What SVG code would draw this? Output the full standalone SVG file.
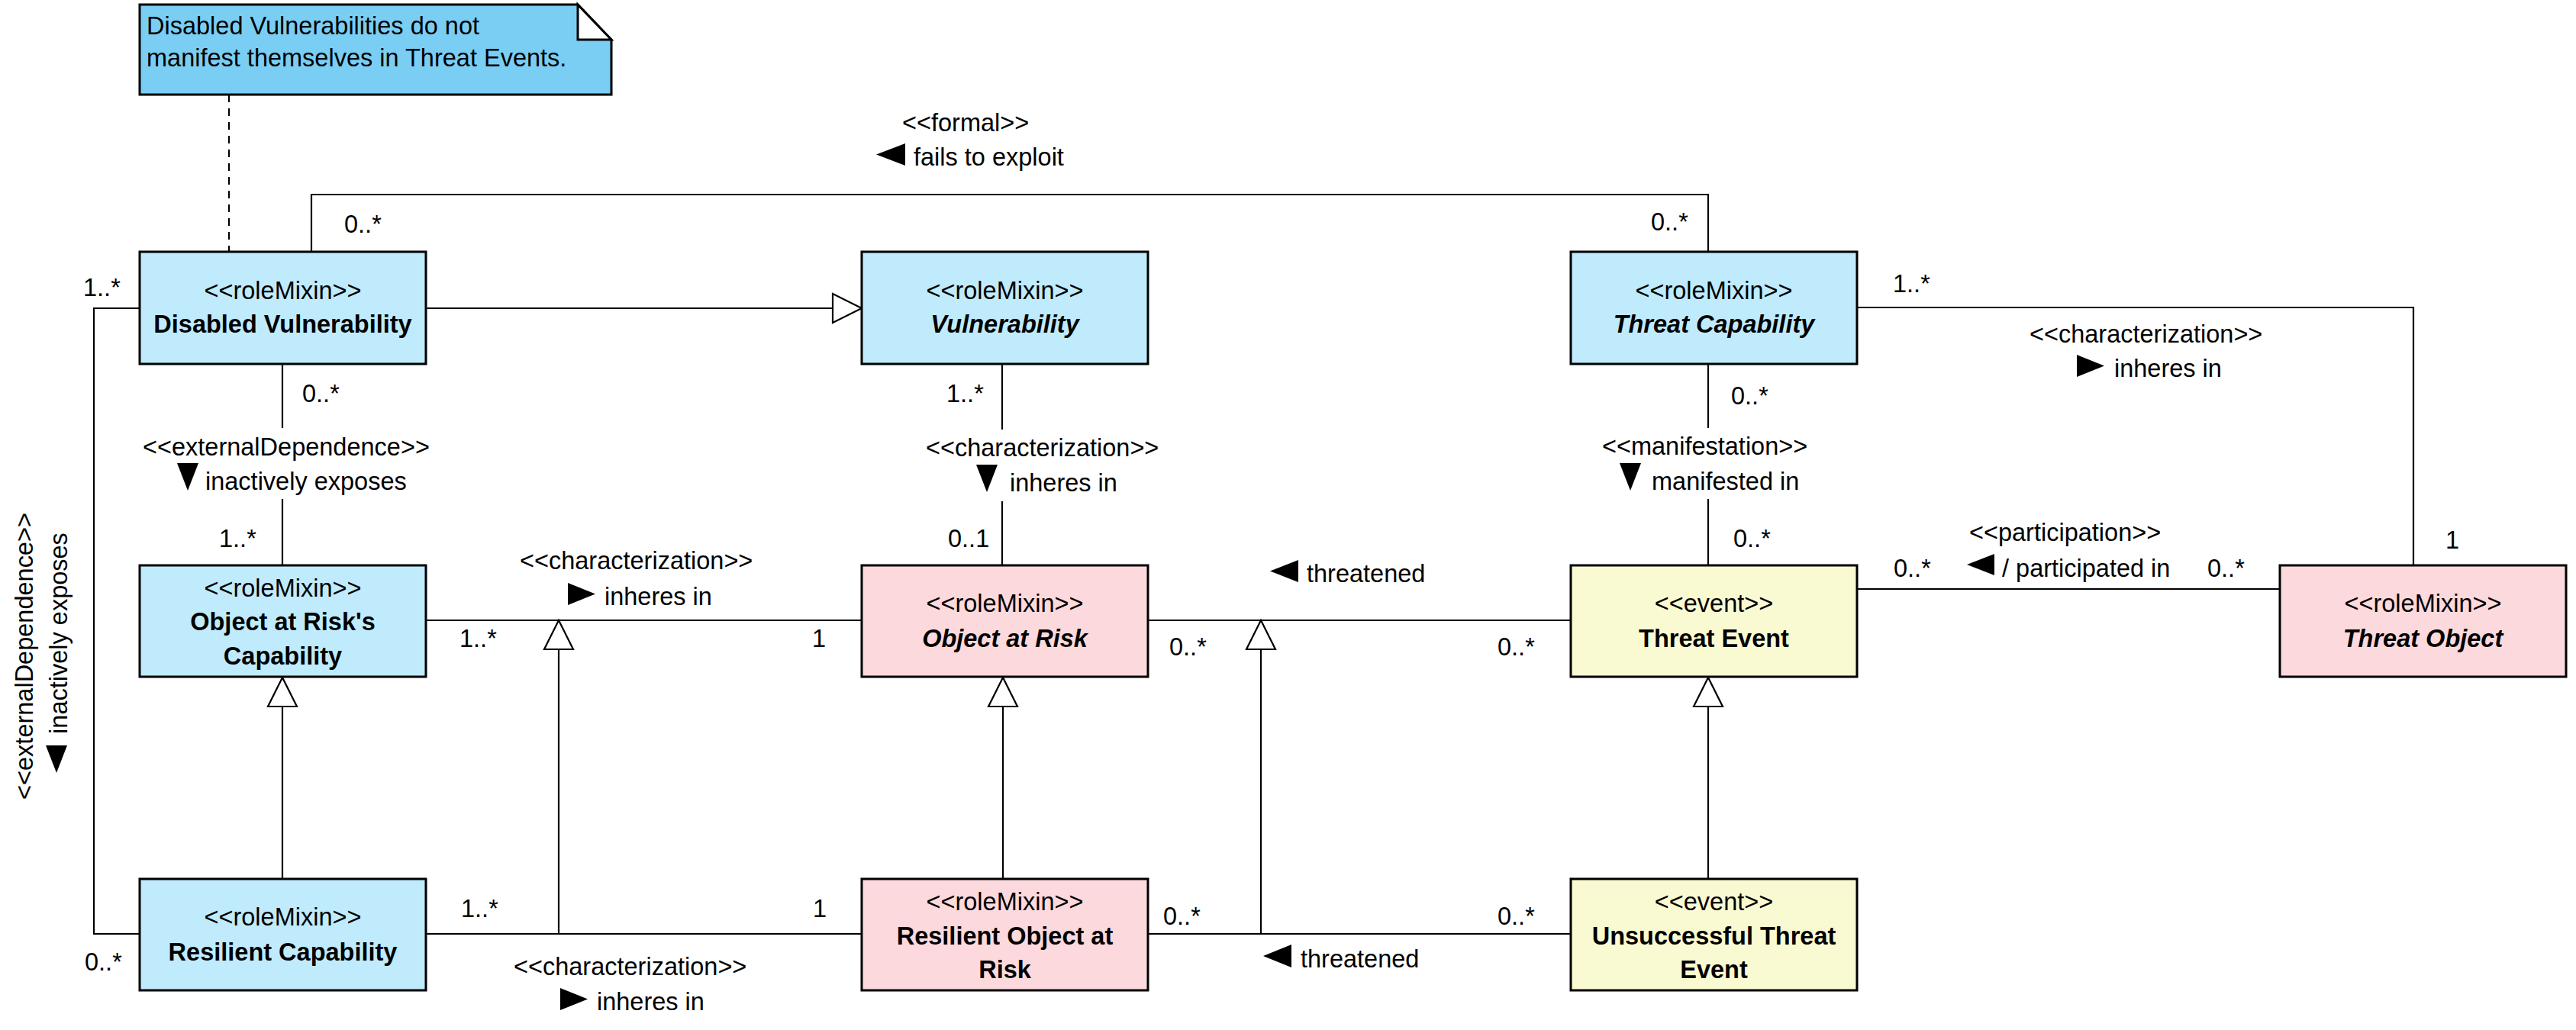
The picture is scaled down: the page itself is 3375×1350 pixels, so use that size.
<svg xmlns="http://www.w3.org/2000/svg" width="3375" height="1350" viewBox="0 0 3375 1350">
<style>
text{font-family:"Liberation Sans",Arial,sans-serif;font-size:32.5px;fill:#000}
.c{text-anchor:middle}
.b{font-weight:bold}
.i{font-weight:bold;font-style:italic}
.box{stroke:#000;stroke-width:3}
.blue{fill:#BFEBFD}
.pink{fill:#FCD9DD}
.yel{fill:#FAFAD2}
.ln{fill:none;stroke:#000;stroke-width:2.2}
.gen{fill:#fff;stroke:#000;stroke-width:2.2}
.arr{fill:#000;stroke:none}
.note text{font-size:31.5px}
</style>
<rect width="3375" height="1350" fill="#fff"/>

<g id="note">
<polygon points="183,6 757,6 801,52 801,124 183,124" fill="#7ACEF4" stroke="#000" stroke-width="3"/>
<polygon points="757,6 801,52 757,52" fill="#fff" stroke="#000" stroke-width="3" stroke-linejoin="miter"/>
<text x="192" y="45">Disabled Vulnerabilities do not</text>
<text x="192" y="87">manifest themselves in Threat Events.</text>
</g>

<g id="connectors">
<path class="ln" d="M300,124 V330" stroke-dasharray="10,8"/>
<!-- formal -->
<path class="ln" d="M408,330 V255 H2238 V330"/>
<text x="1182" y="172">&lt;&lt;formal&gt;&gt;</text>
<polygon class="arr" points="1148,202.5 1186,188 1186,217"/>
<text x="1197" y="217">fails to exploit</text>
<text x="451" y="305">0..*</text>
<text x="2163" y="302">0..*</text>
<!-- DV -> Vulnerability generalization -->
<path class="ln" d="M558,404 H1091"/>
<polygon class="gen" points="1129,404 1091,385 1091,423"/>
<!-- DV - ORC external dependence -->
<path class="ln" d="M370,477 V561 M370,654 V741"/>
<text x="396" y="527">0..*</text>
<text x="187" y="597">&lt;&lt;externalDependence&gt;&gt;</text>
<polygon class="arr" points="232,607 260,607 246,643"/>
<text x="269" y="642">inactively exposes</text>
<text x="287" y="717">1..*</text>
<!-- Vulnerability - OaR characterization -->
<path class="ln" d="M1313,478 V563 M1313,657 V741"/>
<text x="1240" y="527">1..*</text>
<text x="1213" y="598">&lt;&lt;characterization&gt;&gt;</text>
<polygon class="arr" points="1279,609 1307,609 1293,645"/>
<text x="1323" y="644">inheres in</text>
<text x="1242" y="717">0..1</text>
<!-- TC - TE manifestation -->
<path class="ln" d="M2238,478 V561 M2238,654 V741"/>
<text x="2268" y="530">0..*</text>
<text x="2099" y="596">&lt;&lt;manifestation&gt;&gt;</text>
<polygon class="arr" points="2122,607 2150,607 2136,643"/>
<text x="2164" y="642">manifested in</text>
<text x="2271" y="717">0..*</text>
<!-- ORC - OaR characterization -->
<path class="ln" d="M559,813 H1129"/>
<text x="681" y="746">&lt;&lt;characterization&gt;&gt;</text>
<polygon class="arr" points="744,764 744,793 780,778.5"/>
<text x="792" y="793">inheres in</text>
<text x="602" y="848">1..*</text>
<text x="1064" y="848">1</text>
<path class="ln" d="M732,851 V1224"/>
<polygon class="gen" points="732,813 713,851 751,851"/>
<!-- RC - ROaR characterization -->
<path class="ln" d="M559,1224 H1129"/>
<text x="604" y="1202">1..*</text>
<text x="1065" y="1202">1</text>
<text x="673" y="1278">&lt;&lt;characterization&gt;&gt;</text>
<polygon class="arr" points="734,1295 734,1324 770,1309.5"/>
<text x="782" y="1324">inheres in</text>
<!-- RC -> ORC generalization -->
<path class="ln" d="M370,926 V1152"/>
<polygon class="gen" points="370,888 351,926 389,926"/>
<!-- DV - RC external dependence (left) -->
<path class="ln" d="M183,404 H123 V1224 H184"/>
<text x="109" y="388">1..*</text>
<text x="111" y="1272">0..*</text>
<text class="c" transform="translate(43,860) rotate(-90)">&lt;&lt;externalDependence&gt;&gt;</text>
<text class="c" transform="translate(88,830) rotate(-90)">inactively exposes</text>
<polygon class="arr" points="60,977 88,977 74,1013"/>
<!-- OaR - TE threatened -->
<path class="ln" d="M1503,813 H2058"/>
<polygon class="arr" points="1664,748.5 1701,734 1701,763"/>
<text x="1712" y="763">threatened</text>
<text x="1532" y="859">0..*</text>
<text x="1962" y="859">0..*</text>
<path class="ln" d="M1652,851 V1224"/>
<polygon class="gen" points="1652,813 1633,851 1671,851"/>
<!-- ROaR - UTE threatened -->
<path class="ln" d="M1503,1224 H2058"/>
<text x="1524" y="1212">0..*</text>
<text x="1962" y="1212">0..*</text>
<polygon class="arr" points="1655,1253 1692,1238 1692,1268"/>
<text x="1704" y="1268">threatened</text>
<!-- ROaR -> OaR generalization -->
<path class="ln" d="M1314,926 V1152"/>
<polygon class="gen" points="1314,888 1295,926 1333,926"/>
<!-- UTE -> TE generalization -->
<path class="ln" d="M2238,926 V1152"/>
<polygon class="gen" points="2238,888 2219,926 2257,926"/>
<!-- TC - TO characterization -->
<path class="ln" d="M2432,403 H3162 V741"/>
<text x="2480" y="383">1..*</text>
<text x="2659" y="449">&lt;&lt;characterization&gt;&gt;</text>
<polygon class="arr" points="2721,465 2721,494 2757,479.5"/>
<text x="2770" y="494">inheres in</text>
<text x="3204" y="719">1</text>
<!-- TE - TO participation -->
<path class="ln" d="M2432,772 H2987"/>
<text x="2481" y="756">0..*</text>
<text x="2892" y="756">0..*</text>
<text x="2580" y="709">&lt;&lt;participation&gt;&gt;</text>
<polygon class="arr" points="2577,740 2613,726 2613,754"/>
<text x="2623" y="756">/ participated in</text>
</g>

<g id="disabled-vulnerability">
<rect class="box blue" x="183" y="330" width="375" height="147"/>
<text class="c" x="370.5" y="392">&lt;&lt;roleMixin&gt;&gt;</text>
<text class="c b" x="370.5" y="436">Disabled Vulnerability</text>
</g>
<g id="vulnerability">
<rect class="box blue" x="1129" y="330" width="375" height="147"/>
<text class="c" x="1316.5" y="392">&lt;&lt;roleMixin&gt;&gt;</text>
<text class="c i" x="1316.5" y="436">Vulnerability</text>
</g>
<g id="threat-capability">
<rect class="box blue" x="2058" y="330" width="375" height="147"/>
<text class="c" x="2245.5" y="392">&lt;&lt;roleMixin&gt;&gt;</text>
<text class="c i" x="2245.5" y="436">Threat Capability</text>
</g>
<g id="object-at-risks-capability">
<rect class="box blue" x="183" y="741" width="375" height="146"/>
<text class="c" x="370.5" y="782">&lt;&lt;roleMixin&gt;&gt;</text>
<text class="c b" x="370.5" y="826">Object at Risk's</text>
<text class="c b" x="370.5" y="871">Capability</text>
</g>
<g id="object-at-risk">
<rect class="box pink" x="1129" y="741" width="375" height="146"/>
<text class="c" x="1316.5" y="802">&lt;&lt;roleMixin&gt;&gt;</text>
<text class="c i" x="1316.5" y="848">Object at Risk</text>
</g>
<g id="threat-event">
<rect class="box yel" x="2058" y="741" width="375" height="146"/>
<text class="c" x="2245.5" y="802">&lt;&lt;event&gt;&gt;</text>
<text class="c b" x="2245.5" y="848">Threat Event</text>
</g>
<g id="threat-object">
<rect class="box pink" x="2987" y="741" width="375" height="146"/>
<text class="c" x="3174.5" y="802">&lt;&lt;roleMixin&gt;&gt;</text>
<text class="c i" x="3174.5" y="848">Threat Object</text>
</g>
<g id="resilient-capability">
<rect class="box blue" x="183" y="1152" width="375" height="146"/>
<text class="c" x="370.5" y="1213">&lt;&lt;roleMixin&gt;&gt;</text>
<text class="c b" x="370.5" y="1259">Resilient Capability</text>
</g>
<g id="resilient-object-at-risk">
<rect class="box pink" x="1129" y="1152" width="375" height="146"/>
<text class="c" x="1316.5" y="1193">&lt;&lt;roleMixin&gt;&gt;</text>
<text class="c b" x="1316.5" y="1238">Resilient Object at</text>
<text class="c b" x="1316.5" y="1282">Risk</text>
</g>
<g id="unsuccessful-threat-event">
<rect class="box yel" x="2058" y="1152" width="375" height="146"/>
<text class="c" x="2245.5" y="1193">&lt;&lt;event&gt;&gt;</text>
<text class="c b" x="2245.5" y="1238">Unsuccessful Threat</text>
<text class="c b" x="2245.5" y="1282">Event</text>
</g>
</svg>
